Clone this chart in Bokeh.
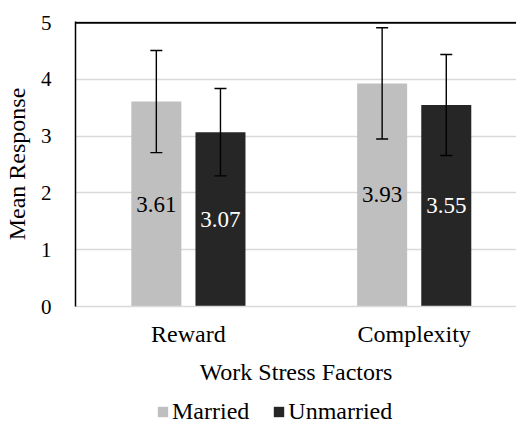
from bokeh.plotting import figure
from bokeh.layouts import column
from bokeh.models import (ColumnDataSource, Range1d, FixedTicker, Span, Legend,
                          LegendItem)
from bokeh.transform import dodge
from bokeh.core.properties import value
from bokeh.embed import file_html
from bokeh.resources import INLINE

# ---- data ----
categories = ["Reward", "Complexity"]
series_names = ["Married", "Unmarried"]
married = [3.61, 3.93]
unmarried = [3.07, 3.55]
married_sd = [0.90, 0.98]
unmarried_sd = [0.77, 0.89]
y_ticks = [0, 1, 2, 3, 4, 5]
x_title = "Work Stress Factors"
y_title = "Mean Response"

FONT = "Liberation Serif"
QFONT = "'Liberation Serif'"
C_MARRIED = "#BFBFBF"
C_UNMARRIED = "#262626"
GRID = "#D9D9D9"

pos = list(range(len(categories)))
src = ColumnDataSource(dict(
    pos=pos,
    married=married,
    unmarried=unmarried,
    m_lo=[m - s for m, s in zip(married, married_sd)],
    m_hi=[m + s for m, s in zip(married, married_sd)],
    u_lo=[m - s for m, s in zip(unmarried, unmarried_sd)],
    u_hi=[m + s for m, s in zip(unmarried, unmarried_sd)],
    m_mid=[v / 2 for v in married],
    u_mid=[v / 2 for v in unmarried],
    m_lab=[f"{v:.2f}" for v in married],
    u_lab=[f"{v:.2f}" for v in unmarried],
))

p = figure(frame_width=441, frame_height=285, title=None,
           x_range=Range1d(-0.5, 1.453), y_range=Range1d(0, 5.02),
           output_backend="svg", toolbar_location=None,
           min_border_left=71, min_border_right=0, min_border_top=21,
           min_border_bottom=0)
p.outline_line_color = None
p.background_fill_color = "white"
p.border_fill_color = "white"

off = 0.142
bw = 0.2215
p.vbar(x=dodge("pos", -off), top="married", width=bw, source=src,
       fill_color=C_MARRIED, line_color=None)
p.vbar(x=dodge("pos", off), top="unmarried", width=bw, source=src,
       fill_color=C_UNMARRIED, line_color=None)

p.text(x=dodge("pos", -off), y="m_mid", text="m_lab", source=src,
       text_font=value(QFONT), text_font_size="23px", text_align="center",
       text_baseline="middle", text_color="black")
p.text(x=dodge("pos", off), y="u_mid", text="u_lab", source=src,
       text_font=value(QFONT), text_font_size="23px", text_align="center",
       text_baseline="middle", text_color="white")

# error bars
for base_off, lo, hi in ((-off, "m_lo", "m_hi"), (off, "u_lo", "u_hi")):
    p.segment(x0=dodge("pos", base_off), y0=lo, x1=dodge("pos", base_off), y1=hi,
              source=src, line_color="black", line_width=1.4)
    for yy in (lo, hi):
        p.scatter(x=dodge("pos", base_off), y=yy, source=src, marker="dash",
                  size=12, line_color="black", line_width=1.4)

p.add_layout(Span(location=5, dimension="width", line_color="black", line_width=2))

# axes
p.xaxis.ticker = FixedTicker(ticks=pos)
p.xaxis.major_label_overrides = {i: c for i, c in zip(pos, categories)}
p.xaxis.axis_label = x_title
p.xaxis.major_tick_line_color = None
p.xaxis.minor_tick_line_color = None
p.xaxis.axis_line_color = GRID
p.xaxis.axis_line_width = 1.5
p.xaxis.major_label_standoff = 8
p.xaxis.axis_label_standoff = 9

p.yaxis.ticker = FixedTicker(ticks=y_ticks)
p.yaxis.axis_label = y_title
p.yaxis.major_tick_line_color = None
p.yaxis.minor_tick_line_color = None
p.yaxis.axis_line_color = "black"
p.yaxis.axis_line_width = 1.5
p.yaxis.major_label_standoff = 18
p.yaxis.axis_label_standoff = 8

for ax in (p.xaxis[0], p.yaxis[0]):
    ax.axis_label_text_font = FONT
    ax.axis_label_text_font_size = "24px"
    ax.axis_label_text_font_style = "normal"
    ax.axis_label_text_color = "black"
    ax.major_label_text_font = FONT
    ax.major_label_text_color = "black"
p.xaxis.major_label_text_font_size = "24px"
p.yaxis.major_label_text_font_size = "21px"

p.xgrid.visible = False
p.ygrid.grid_line_color = GRID
p.ygrid.grid_line_width = 1.5

# ---- legend strip (same series, drawn outside its visible range) ----
lp = figure(width=512, height=38, title=None, output_backend="svg",
            toolbar_location=None, x_axis_location=None, y_axis_location=None,
            x_range=Range1d(10, 11), y_range=Range1d(10, 11),
            min_border_left=0, min_border_right=0, min_border_top=0,
            min_border_bottom=0)
lp.outline_line_color = None
lp.grid.visible = False
lr1 = lp.vbar(x=dodge("pos", -off), top="married", width=bw, source=src,
              fill_color=C_MARRIED, line_color=None)
lr2 = lp.vbar(x=dodge("pos", off), top="unmarried", width=bw, source=src,
              fill_color=C_UNMARRIED, line_color=None)
legend = Legend(items=[LegendItem(label=series_names[0], renderers=[lr1]),
                       LegendItem(label=series_names[1], renderers=[lr2])],
                orientation="horizontal", location=(81, 0),
                glyph_width=13, glyph_height=13, label_standoff=3, spacing=23,
                padding=0, margin=0, border_line_color=None,
                background_fill_alpha=0,
                label_text_font=QFONT, label_text_font_size="24px",
                label_text_color="black")
lp.add_layout(legend, "center")

layout = column(p, lp, spacing=0)
open("out.html", "w").write(file_html(layout, INLINE))
